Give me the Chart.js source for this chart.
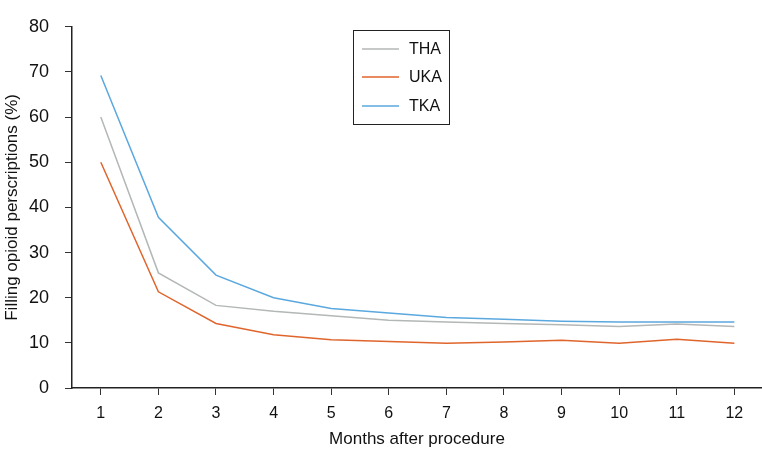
<!DOCTYPE html>
<html>
<head>
<meta charset="utf-8">
<script src="https://cdn.jsdelivr.net/npm/chart.js@4/dist/chart.umd.min.js"></script>
<style>
html,body{margin:0;padding:0;background:#fff;}
#wrap{width:762px;height:452px;position:relative;}
</style>
</head>
<body>
<div id="wrap"><canvas id="c"></canvas></div>
<script>
const months = [1,2,3,4,5,6,7,8,9,10,11,12];
const tha = [60, 25.5, 18.3, 17, 16, 15, 14.6, 14.3, 14, 13.6, 14.2, 13.6];
const uka = [50, 21.3, 14.3, 11.8, 10.7, 10.3, 9.9, 10.2, 10.6, 9.9, 10.8, 9.9];
const tka = [69.2, 37.8, 25, 20, 17.6, 16.6, 15.6, 15.2, 14.8, 14.6, 14.6, 14.6];
const yTicks = [0,10,20,30,40,50,60,70,80];
const seriesNames = ['THA','UKA','TKA'];
const seriesColors = ['#b3b7b6','#e0652d','#5ba8df'];

const toPts = arr => arr.map((v,i)=>({x:months[i], y:v}));

const legendBox = {
  id:'legendBox',
  afterDatasetsDraw(chart){
    const ctx = chart.ctx;
    ctx.save();
    ctx.strokeStyle = '#222';
    ctx.lineWidth = 1;
    ctx.strokeRect(353.5, 30.5, 96, 94);
    const ys = [49, 77, 106];
    chart.data.datasets.forEach((ds,i)=>{
      ctx.strokeStyle = ds.borderColor;
      ctx.lineWidth = 1.5;
      ctx.beginPath();
      ctx.moveTo(362, ys[i]);
      ctx.lineTo(399, ys[i]);
      ctx.stroke();
      ctx.fillStyle = '#111';
      ctx.font = '16px "Liberation Sans", Arial, sans-serif';
      ctx.textBaseline = 'middle';
      ctx.textAlign = 'left';
      ctx.fillText(ds.label, 409, ys[i]+1);
    });
    ctx.restore();
  }
};

new Chart(document.getElementById('c'), {
  type:'line',
  data:{
    datasets:[
      {label:seriesNames[0], data:toPts(tha), borderColor:seriesColors[0]},
      {label:seriesNames[1], data:toPts(uka), borderColor:seriesColors[1]},
      {label:seriesNames[2], data:toPts(tka), borderColor:seriesColors[2]}
    ].map(d=>Object.assign(d,{borderWidth:1.5, pointRadius:0, tension:0, fill:false}))
  },
  options:{
    responsive:true,
    maintainAspectRatio:false,
    animation:false,
    layout:{padding:{top:10,right:0,bottom:0,left:0}, autoPadding:false},
    plugins:{legend:{display:false}, tooltip:{enabled:false}},
    scales:{
      x:{
        type:'linear',
        min:0.5, max:12.48,
        afterBuildTicks(s){ s.ticks = months.map(v=>({value:v})); },
        afterFit(s){ s.height = 64; },
        grid:{display:true, drawOnChartArea:false, drawTicks:true, tickLength:7, color:'#333', lineWidth:1},
        border:{display:true, color:'#222', width:1.5},
        ticks:{padding:9, color:'#111', autoSkip:false, maxRotation:0,
          font:{family:'"Liberation Sans Narrow", "Liberation Sans", Arial, sans-serif', size:16},
          callback:(v)=>String(v)},
        title:{display:true, text:'Months after procedure', color:'#111',
          font:{family:'"Liberation Sans", Arial, sans-serif', size:17}, padding:{top:0,bottom:2}}
      },
      y:{
        min:0, max:80,
        afterBuildTicks(s){ s.ticks = yTicks.map(v=>({value:v})); },
        afterFit(s){ s.width = 72; },
        grid:{display:true, drawOnChartArea:false, drawTicks:true, tickLength:7, color:'#333', lineWidth:1},
        border:{display:true, color:'#222', width:1.5},
        ticks:{padding:16, color:'#111',
          font:{family:'"Liberation Sans", Arial, sans-serif', size:18}},
        title:{display:true, text:'Filling opioid perscriptions (%)', color:'#111',
          font:{family:'"Liberation Sans", Arial, sans-serif', size:17}, padding:{top:2,bottom:0}}
      }
    }
  },
  plugins:[legendBox]
});
</script>
</body>
</html>
